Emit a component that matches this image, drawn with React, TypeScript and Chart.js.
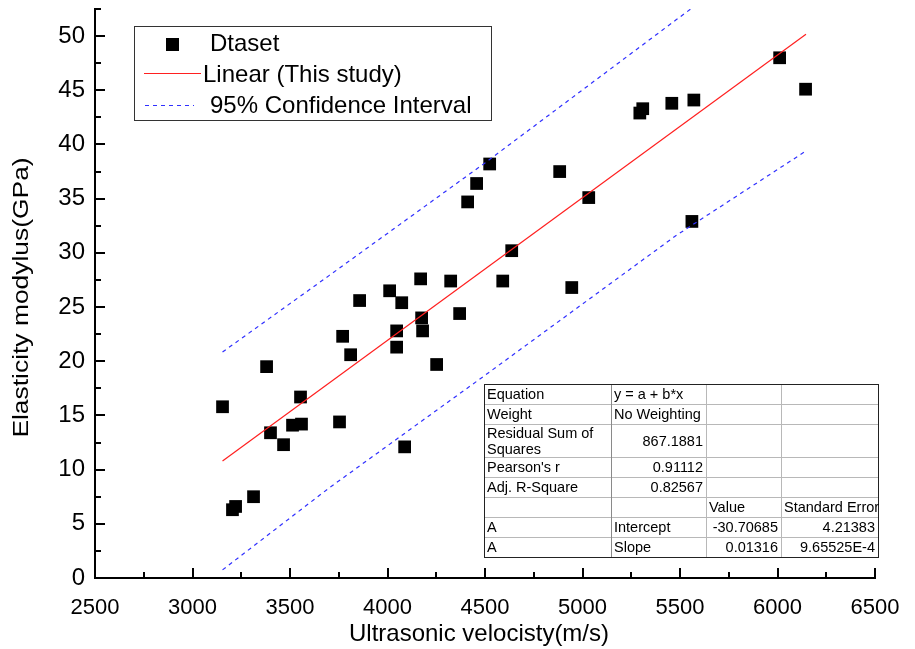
import React, { useEffect, useRef } from 'react';
import { Chart, registerables } from 'chart.js';

Chart.register(...registerables);

// ---- Data ----
const velocity = [
  3154, 3205, 3221, 3313, 3380, 3400, 3467, 3513, 3554, 3559,
  3754, 3770, 3811, 3857, 4011, 4047, 4047, 4073, 4088, 4170,
  4175, 4180, 4252, 4324, 4370, 4411, 4457, 4524, 4591, 4637,
  4883, 4945, 5032, 5294, 5309, 5458, 5571, 5561, 6011, 6144,
];
const modulus = [
  15.8, 6.3, 6.6, 7.5, 19.5, 13.4, 12.3, 14.1, 16.7, 14.2,
  14.4, 22.3, 20.6, 25.6, 26.5, 22.8, 21.3, 25.4, 12.1, 27.6,
  24.0, 22.8, 19.7, 27.4, 24.4, 34.7, 36.4, 38.2, 27.4, 30.2,
  37.5, 26.8, 35.1, 42.9, 43.3, 43.8, 44.1, 32.9, 48.0, 45.1,
];
const fitX = [3154, 6146];
const fitY = [10.80, 50.18];
const bandX = [3154, 3700, 4500, 5480, 6146];
const upperBand = [20.85, 27.9, 38.3, 51.5, 60.4];
const lowerBand = [0.75, 8.3, 18.7, 31.6, 39.4];

const xTickValues = [2500, 3000, 3500, 4000, 4500, 5000, 5500, 6000, 6500];
const yTickValues = [0, 5, 10, 15, 20, 25, 30, 35, 40, 45, 50];
const xMin = 2500, xMax = 6500, xMajor = 500, xMinor = 250;
const yMin = 0, yMax = 52.5, yMajor = 5, yMinor = 2.5;

const xTitle = 'Ultrasonic velocisty(m/s)';
const yTitle = 'Elasticity modylus(GPa)';
const legendLabels = ['Dtaset', 'Linear (This study)', '95% Confidence Interval'];

const tableCol1 = ['Equation', 'Weight', 'Residual Sum of\nSquares', "Pearson's r", 'Adj. R-Square', '', 'A', 'A'];
const tableCol2 = ['y = a + b*x', 'No Weighting', '867.1881', '0.91112', '0.82567', '', 'Intercept', 'Slope'];
const tableCol3 = ['', '', '', '', '', 'Value', '-30.70685', '0.01316'];
const tableCol4 = ['', '', '', '', '', 'Standard Error', '4.21383', '9.65525E-4'];

const FONT = "'Liberation Sans', Arial, sans-serif";
const RED = '#ff2020';
const BLUE = '#3030ff';

const innerTicks = {
  id: 'innerTicks',
  afterDraw(chart: any) {
    const { ctx, chartArea, scales } = chart;
    const xs = scales.x, ys = scales.y;
    ctx.save();
    ctx.strokeStyle = '#000';
    ctx.lineWidth = 2;
    for (let v = xMin; v <= xMax + 1e-6; v += xMinor) {
      const px = Math.round(xs.getPixelForValue(v));
      const len = Math.abs(v % xMajor) < 1e-6 ? 10 : 6;
      ctx.beginPath();
      ctx.moveTo(px, chartArea.bottom);
      ctx.lineTo(px, chartArea.bottom - len);
      ctx.stroke();
    }
    for (let v = yMin; v <= yMax + 1e-6; v += yMinor) {
      const py = Math.round(ys.getPixelForValue(v));
      const len = Math.abs(v % yMajor) < 1e-6 ? 10 : 6;
      ctx.beginPath();
      ctx.moveTo(chartArea.left, py);
      ctx.lineTo(chartArea.left + len, py);
      ctx.stroke();
    }
    ctx.fillStyle = '#000';
    ctx.textAlign = 'center';
    ctx.textBaseline = 'middle';
    // x axis title
    ctx.font = `24px ${FONT}`;
    ctx.fillText(xTitle, 479, 634);
    // y axis title (slightly stretched along its length, as in the reference)
    ctx.font = `22px ${FONT}`;
    ctx.translate(22, (chartArea.top + chartArea.bottom) / 2 + 4);
    ctx.rotate(-Math.PI / 2);
    ctx.scale(1.2, 1);
    ctx.fillText(yTitle, 0, 0);
    ctx.restore();
  },
};

const legendBox = {
  id: 'legendBox',
  afterDraw(chart: any) {
    const { ctx } = chart;
    ctx.save();
    ctx.strokeStyle = '#333';
    ctx.lineWidth = 1;
    ctx.strokeRect(134.5, 26.5, 357, 94);
    ctx.fillStyle = '#000';
    ctx.fillRect(166, 38, 13, 13);
    ctx.strokeStyle = RED;
    ctx.beginPath();
    ctx.moveTo(144, 73.5);
    ctx.lineTo(201, 73.5);
    ctx.stroke();
    ctx.strokeStyle = BLUE;
    ctx.setLineDash([4, 4]);
    ctx.beginPath();
    ctx.moveTo(145, 105.5);
    ctx.lineTo(194, 105.5);
    ctx.stroke();
    ctx.setLineDash([]);
    ctx.fillStyle = '#000';
    ctx.font = `24px ${FONT}`;
    ctx.textBaseline = 'middle';
    ctx.textAlign = 'left';
    ctx.fillText(legendLabels[0], 210, 44);
    ctx.fillText(legendLabels[1], 203, 75);
    ctx.fillText(legendLabels[2], 210, 106);
    ctx.restore();
  },
};

const statsTable = {
  id: 'statsTable',
  afterDraw(chart: any) {
    const { ctx } = chart;
    const colX = [484, 611, 706, 781, 878];
    const rowY = [384, 404, 424, 457, 477, 497, 517, 537, 557];
    ctx.save();
    ctx.fillStyle = '#fff';
    ctx.fillRect(colX[0], rowY[0], colX[4] - colX[0], rowY[8] - rowY[0]);
    ctx.lineWidth = 1;
    ctx.strokeStyle = '#b8b8b8';
    for (let i = 1; i < rowY.length - 1; i++) {
      ctx.beginPath();
      ctx.moveTo(colX[0], rowY[i] + 0.5);
      ctx.lineTo(colX[4], rowY[i] + 0.5);
      ctx.stroke();
    }
    for (let j = 1; j < colX.length - 1; j++) {
      ctx.strokeStyle = j === 1 ? '#8a8a8a' : '#b8b8b8';
      ctx.beginPath();
      ctx.moveTo(colX[j] + 0.5, rowY[0]);
      ctx.lineTo(colX[j] + 0.5, rowY[8]);
      ctx.stroke();
    }
    ctx.strokeStyle = '#222';
    ctx.strokeRect(colX[0] + 0.5, rowY[0] + 0.5, colX[4] - colX[0], rowY[8] - rowY[0]);

    ctx.fillStyle = '#000';
    ctx.font = `14.5px ${FONT}`;
    ctx.textBaseline = 'middle';
    const cols = [tableCol1, tableCol2, tableCol3, tableCol4];
    const isNum = (s: string) => /^-?[\d.]+(E-?\d+)?$/.test(s);
    cols.forEach((col, j) => {
      col.forEach((txt, i) => {
        if (!txt) return;
        const top = rowY[i], bot = rowY[i + 1];
        const lines = txt.split('\n');
        const lh = 16;
        const cy = (top + bot) / 2 + 1;
        lines.forEach((ln, k) => {
          const y = cy + (k - (lines.length - 1) / 2) * lh;
          if (isNum(ln)) {
            ctx.textAlign = 'right';
            ctx.fillText(ln, colX[j + 1] - 3, y);
          } else {
            ctx.textAlign = 'left';
            ctx.fillText(ln, colX[j] + 3, y);
          }
        });
      });
    });
    ctx.restore();
  },
};

export default function App() {
  const ref = useRef<HTMLCanvasElement>(null);
  useEffect(() => {
    document.body.style.margin = '0';
    Chart.defaults.font.family = FONT;
    Chart.defaults.color = '#000';
    const toPts = (xs: number[], ys: number[]) => xs.map((x, i) => ({ x, y: ys[i] }));
    const chart = new Chart(ref.current!, {
      type: 'scatter',
      data: {
        datasets: [
          {
            label: legendLabels[1],
            data: toPts(fitX, fitY),
            showLine: true,
            borderColor: RED,
            borderWidth: 1.2,
            pointRadius: 0,
          },
          {
            label: legendLabels[2],
            data: toPts(bandX, upperBand),
            showLine: true,
            borderColor: BLUE,
            borderWidth: 1.2,
            borderDash: [4, 4],
            pointRadius: 0,
          },
          {
            label: legendLabels[2] + ' lower',
            data: toPts(bandX, lowerBand),
            showLine: true,
            borderColor: BLUE,
            borderWidth: 1.2,
            borderDash: [4, 4],
            pointRadius: 0,
          },
          {
            label: legendLabels[0],
            data: toPts(velocity, modulus),
            pointStyle: 'rect',
            pointRadius: 9,
            backgroundColor: '#000',
            borderColor: '#000',
            borderWidth: 0,
          },
        ],
      },
      options: {
        responsive: false,
        animation: false,
        layout: { padding: { left: 0, top: 9, right: 40, bottom: 0 } },
        plugins: { legend: { display: false }, tooltip: { enabled: false } },
        scales: {
          x: {
            type: 'linear',
            min: xMin,
            max: xMax,
            grid: { display: false, drawTicks: false },
            border: { display: true, color: '#000', width: 2 },
            ticks: {
              autoSkip: false, maxRotation: 0, padding: 17,
              font: { size: 22 }, color: '#000',
              callback: (v: any) => String(v),
            },
            afterBuildTicks(scale: any) {
              scale.ticks = xTickValues.map((v) => ({ value: v }));
            },
            title: { display: false },
            afterFit(scale: any) {
              scale.height = 71;
              scale.paddingLeft = 0;
              scale.paddingRight = 0;
            },
          },
          y: {
            type: 'linear',
            min: yMin,
            max: yMax,
            grid: { display: false, drawTicks: false },
            border: { display: true, color: '#000', width: 2 },
            ticks: { autoSkip: false, padding: 10, font: { size: 24 }, color: '#000', callback: (v: any) => String(v) },
            afterBuildTicks(scale: any) {
              scale.ticks = yTickValues.map((v) => ({ value: v }));
            },
            title: { display: false },
            afterFit(scale: any) {
              scale.width = 95;
              scale.paddingTop = 0;
              scale.paddingBottom = 0;
            },
          },
        },
      },
      plugins: [innerTicks, legendBox, statsTable],
    } as any);
    return () => chart.destroy();
  }, []);
  return (
    <div style={{ width: 915, height: 649, background: '#fff' }}>
      <canvas ref={ref} width={915} height={649} style={{ display: 'block' }} />
    </div>
  );
}
